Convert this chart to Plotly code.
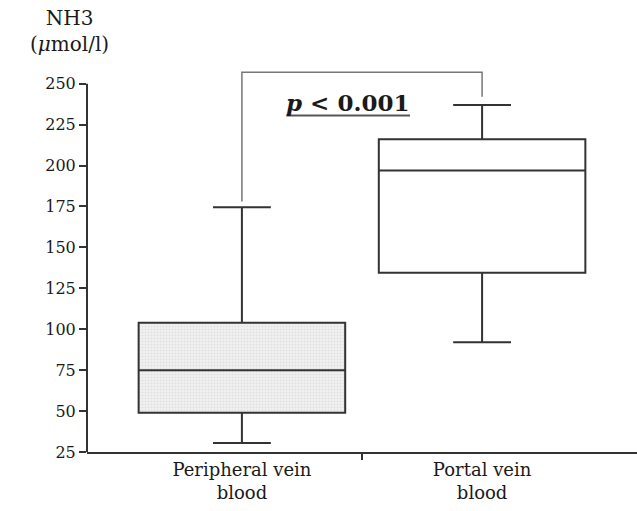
import plotly.graph_objects as go

categories = ["Peripheral vein<br>blood", "Portal vein<br>blood"]
x_pos = [0, 1]
q_min = [30.5, 92]
q1 = [49, 134.5]
median = [75, 197]
q3 = [104, 216]
q_max = [174.5, 237]
y_ticks = [25, 50, 75, 100, 125, 150, 175, 200, 225, 250]
bracket_x = [0, 0, 1, 1]
bracket_y = [178, 257, 257, 242]

FONT = "DejaVu Serif"
LINE = "#333333"
TXT = "#1a1a1a"
BOX_W = 0.86

fig = go.Figure()

# dotted fill of the peripheral box (drawn beneath the box outline)
fig.add_trace(go.Bar(
    x=[x_pos[0]], y=[q3[0] - q1[0]], base=[q1[0]], width=BOX_W,
    marker=dict(color="#eeeeee", line=dict(width=0),
                pattern=dict(shape=".", fgcolor="#cfcfcf", bgcolor="#f1f1f1",
                             size=3, solidity=0.4)),
    showlegend=False, hoverinfo="skip",
))

for i in range(2):
    fig.add_trace(go.Box(
        x=[x_pos[i]], q1=[q1[i]], median=[median[i]], q3=[q3[i]],
        lowerfence=[q_min[i]], upperfence=[q_max[i]],
        width=BOX_W, whiskerwidth=0.28,
        fillcolor="rgba(255,255,255,0)" if i == 0 else "white",
        line=dict(color=LINE, width=2),
        boxpoints=False, showlegend=False, hoverinfo="skip",
    ))

fig.add_trace(go.Scatter(
    x=bracket_x, y=bracket_y, mode="lines",
    line=dict(color="#777777", width=1.5), showlegend=False, hoverinfo="skip",
))

# y axis line only up to 250
fig.add_shape(type="line", xref="paper", yref="y", x0=0, x1=0, y0=25, y1=250,
              line=dict(color=LINE, width=2))

fig.add_annotation(x=0.44, y=238.5, xref="x", yref="y",
                   text="<b><i>p</i> < 0.001</b>", showarrow=False,
                   font=dict(family=FONT, size=23, color=TXT),
                   xanchor="center", yanchor="middle")
fig.add_shape(type="line", xref="x", yref="y", x0=0.185, x1=0.7, y0=230.5, y1=230.5,
              line=dict(color="#555555", width=2))

fig.add_annotation(x=-0.032, y=1.085, xref="paper", yref="paper",
                   text="NH3<br>(<i>μ</i>mol/l)", showarrow=False,
                   font=dict(family=FONT, size=20, color=TXT),
                   xanchor="center", yanchor="middle")

fig.update_layout(
    width=637, height=511,
    margin=dict(l=87, r=0, t=64, b=59),
    plot_bgcolor="white", paper_bgcolor="white",
    font=dict(family=FONT, color=TXT),
    barmode="overlay",
    xaxis=dict(
        range=[-0.645, 1.645], tickvals=x_pos, ticktext=categories,
        ticks="", showline=True, linecolor=LINE, linewidth=2, automargin=False,
        showgrid=False, zeroline=False, tickfont=dict(size=18, family=FONT, color=TXT),
        minor=dict(tickvals=[0.5], ticks="outside", ticklen=6, tickcolor=LINE, tickwidth=2),
    ),
    yaxis=dict(
        range=[25, 262], tickvals=y_ticks, ticks="outside", ticklen=7, automargin=False,
        tickcolor=LINE, tickwidth=2, showline=False, showgrid=False,
        zeroline=False, tickfont=dict(size=16, family=FONT, color=TXT),
    ),
)

fig.write_html("out.html", config={"displayModeBar": False},
               post_script="document.body.style.margin='0px';")
